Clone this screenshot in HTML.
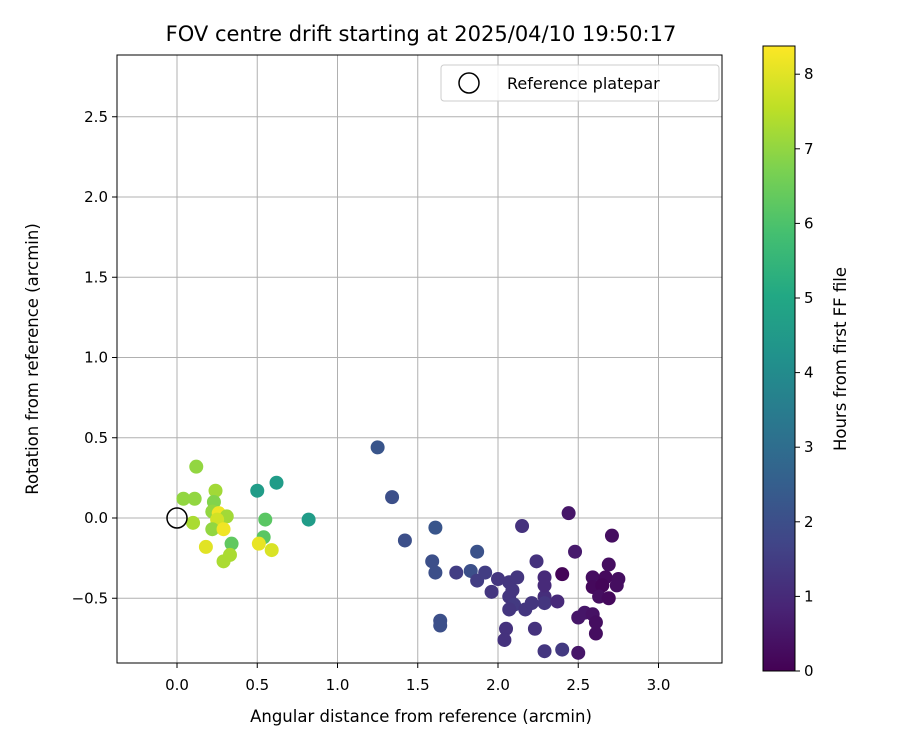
<!DOCTYPE html>
<html><head><meta charset="utf-8"><style>
body{margin:0;background:#fff}
svg text{font-family:"DejaVu Sans","Liberation Sans",sans-serif;fill:#000}
</style></head><body>
<svg id="chart" width="900" height="750" xmlns="http://www.w3.org/2000/svg">
<rect width="900" height="750" fill="#fff"/>
<defs><linearGradient id="vir" x1="0" y1="1" x2="0" y2="0">
<stop offset="0" stop-color="#440154"/><stop offset="0.1" stop-color="#482475"/><stop offset="0.2" stop-color="#414487"/><stop offset="0.3" stop-color="#355f8d"/><stop offset="0.4" stop-color="#2a788e"/><stop offset="0.5" stop-color="#21918c"/><stop offset="0.6" stop-color="#22a884"/><stop offset="0.7" stop-color="#44bf70"/><stop offset="0.8" stop-color="#7ad151"/><stop offset="0.9" stop-color="#bddf26"/><stop offset="1" stop-color="#fde725"/></linearGradient></defs>
<text x="421" y="41" font-size="21" text-anchor="middle">FOV centre drift starting at 2025/04/10 19:50:17</text>
<g id="grid"></g><g id="pts"></g><g id="ticks"></g>
<rect x="117" y="55" width="605" height="608" fill="none" stroke="#000" stroke-width="1"/>
<circle cx="177" cy="518" r="10" fill="none" stroke="#000" stroke-width="1.5"/>
<g>
<rect x="441" y="65" width="278" height="36" rx="3" fill="#fff" stroke="#ccc" fill-opacity="0.85"/>
<circle cx="469" cy="83" r="10" fill="none" stroke="#000" stroke-width="1.5"/>
<text x="507" y="89" font-size="16">Reference platepar</text></g>
<text x="421" y="722" font-size="16.5" text-anchor="middle">Angular distance from reference (arcmin)</text>
<text x="38" y="359" font-size="16.5" text-anchor="middle" transform="rotate(-90 38 359)">Rotation from reference (arcmin)</text>
<rect x="763" y="46" width="32" height="625" fill="url(#vir)" stroke="#000" stroke-width="1"/>
<g id="cbt"></g>
<text x="846" y="359" font-size="16.5" text-anchor="middle" transform="rotate(-90 846 359)">Hours from first FF file</text>
</svg>
<script>
const xTicks=[0,0.5,1,1.5,2,2.5,3];
const yTicks=[-0.5,0,0.5,1,1.5,2,2.5];
const cbTicks=[0,1,2,3,4,5,6,7,8];
const xs=[0.12,0.04,0.11,0.24,0.23,0.22,0.26,0.31,0.25,0.10,0.22,0.29,0.34,0.18,0.33,0.29,0.50,0.62,0.82,0.55,0.54,0.51,0.59,
1.25,1.34,1.42,1.61,1.59,1.61,1.87,1.64,1.64,1.74,1.83,1.87,1.92,1.96,2.00,2.07,2.12,2.09,2.07,2.10,2.07,2.17,2.21,2.29,2.29,2.37,2.29,2.29,2.24,2.15,2.05,2.04,2.23,2.29,2.40,2.50,2.44,2.48,2.40,2.71,2.69,2.59,2.67,2.75,2.59,2.65,2.74,2.63,2.69,2.50,2.54,2.59,2.61,2.61];
const ys=[0.32,0.12,0.12,0.17,0.10,0.04,0.03,0.01,-0.01,-0.03,-0.07,-0.07,-0.16,-0.18,-0.23,-0.27,0.17,0.22,-0.01,-0.01,-0.12,-0.16,-0.20,
0.44,0.13,-0.14,-0.06,-0.27,-0.34,-0.21,-0.64,-0.67,-0.34,-0.33,-0.39,-0.34,-0.46,-0.38,-0.40,-0.37,-0.45,-0.49,-0.54,-0.57,-0.57,-0.53,-0.49,-0.53,-0.52,-0.37,-0.42,-0.27,-0.05,-0.69,-0.76,-0.69,-0.83,-0.82,-0.84,0.03,-0.21,-0.35,-0.11,-0.29,-0.37,-0.37,-0.38,-0.43,-0.42,-0.42,-0.49,-0.50,-0.62,-0.59,-0.60,-0.65,-0.72];
const hours=[7,7,7,7.2,6.8,7,8.2,7.2,7.8,7.3,7,8.2,6.3,8,7.3,7.3,4.6,4.6,4.6,6.2,6.2,8.1,7.9,
2.2,2.0,2.0,2.2,2.0,2.0,2.1,2.0,2.0,1.5,2.0,1.5,1.5,1.3,1.3,1.3,1.3,1.3,1.3,1.4,1.3,1.3,1.3,1.1,1.3,1.0,1.0,1.0,1.2,1.2,1.2,1.2,1.2,1.3,1.4,0.5,0.5,0.6,0.1,0.3,0.3,0.3,0.2,0.3,0.2,0.1,0.3,0.3,0.2,0.5,0.5,0.4,0.3,0.3];
const NS='http://www.w3.org/2000/svg';
const X=v=>177+v*160.5, Y=v=>518-v*160.5, C=v=>671-v*74.6, HMAX=8.37;
const stops=['#440154','#482475','#414487','#355f8d','#2a788e','#21918c','#22a884','#44bf70','#7ad151','#bddf26','#fde725'];
function hex(h){return [1,3,5].map(i=>parseInt(h.substr(i,2),16));}
function vir(t){t=Math.max(0,Math.min(1,t))*10;const i=Math.min(9,Math.floor(t)),f=t-i;const a=hex(stops[i]),b=hex(stops[i+1]);return 'rgb('+a.map((v,k)=>Math.round(v+(b[k]-v)*f)).join(',')+')';}
function mk(tag,at,par){const e=document.createElementNS(NS,tag);for(const k in at)e.setAttribute(k,at[k]);document.getElementById(par).appendChild(e);return e;}
xTicks.forEach(v=>{
 const g=mk('line',{x1:X(v),x2:X(v),y1:55,y2:663,stroke:'#b0b0b0','stroke-width':1},'grid');
 
 
 mk('line',{x1:X(v),x2:X(v),y1:663,y2:668,stroke:'#000'},'ticks');
 const t=mk('text',{x:X(v),y:690,'font-size':15,'text-anchor':'middle'},'ticks');t.textContent=v.toFixed(1);
 
 
});
yTicks.forEach(v=>{
 const g=mk('line',{x1:117,x2:722,y1:Y(v),y2:Y(v),stroke:'#b0b0b0','stroke-width':1},'grid');
 
 
 mk('line',{x1:112,x2:117,y1:Y(v),y2:Y(v),stroke:'#000'},'ticks');
 const t=mk('text',{x:108,y:Y(v)+5,'font-size':15,'text-anchor':'end'},'ticks');t.textContent=(v<0?'\u2212'+(-v).toFixed(1):v.toFixed(1));
 
 
});
cbTicks.forEach(v=>{
 mk('line',{x1:795,x2:800,y1:C(v),y2:C(v),stroke:'#000'},'cbt');
 const t=mk('text',{x:804,y:C(v)+5,'font-size':15},'cbt');t.textContent=v;
 
 
});
xs.forEach((v,i)=>{
 const c=mk('circle',{cx:X(v),cy:Y(ys[i]),r:7,fill:vir(hours[i]/HMAX)},'pts');
 
 
});
</script>
</body></html>
